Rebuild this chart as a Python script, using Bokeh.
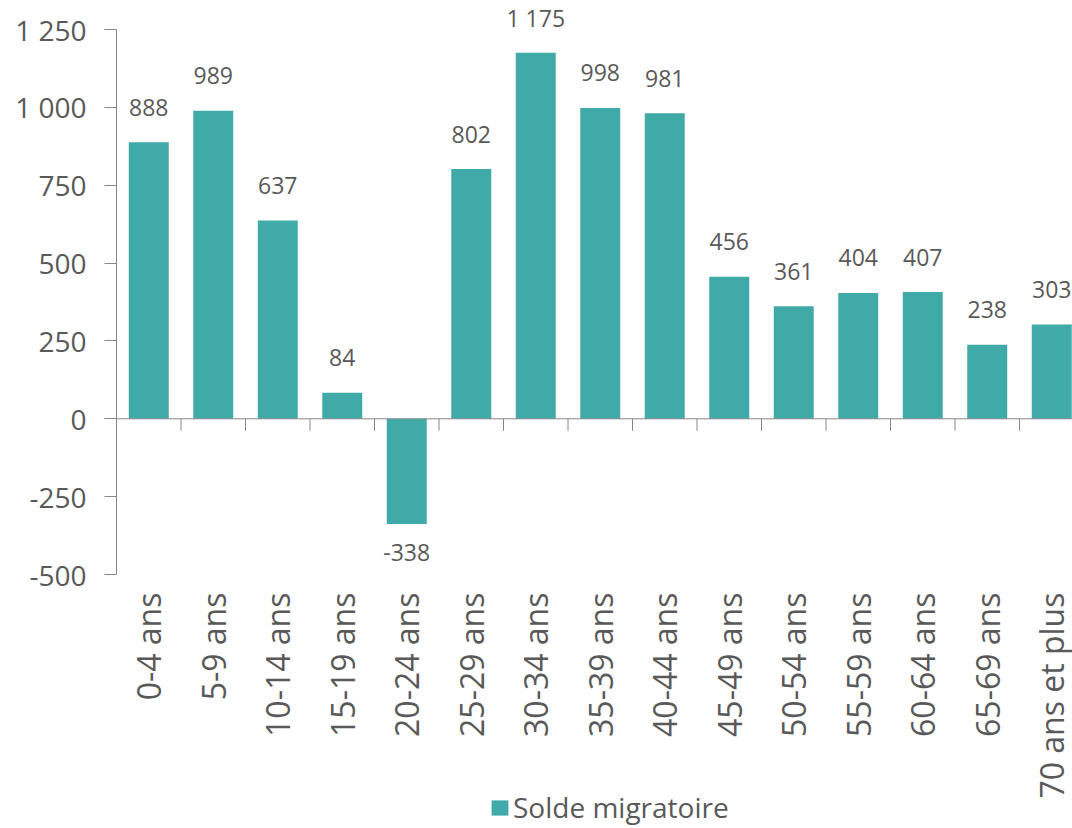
import math
from bokeh.plotting import figure
from bokeh.models import (ColumnDataSource, FixedTicker, LabelSet, Legend,
                          LegendItem, Span, Range1d)
from bokeh.core.properties import value
from bokeh.embed import file_html
from bokeh.resources import INLINE

categories = ["0-4 ans", "5-9 ans", "10-14 ans", "15-19 ans", "20-24 ans",
              "25-29 ans", "30-34 ans", "35-39 ans", "40-44 ans", "45-49 ans",
              "50-54 ans", "55-59 ans", "60-64 ans", "65-69 ans", "70 ans et plus"]
values = [888, 989, 637, 84, -338, 802, 1175, 998, 981, 456, 361, 404, 407, 238, 303]
y_ticks = [-500, -250, 0, 250, 500, 750, 1000, 1250]
series_name = "Solde migratoire"


def fmt(v):
    return f"{v:,}".replace(",", " ")


FONT = "Open Sans"
TEXT = "#595959"
AXIS = "#868686"
BAR = "#40AAA8"

Y0, Y1 = y_ticks[0], y_ticks[-1]
px_per_unit = 545 / (Y1 - Y0)
TOP_PAD = 29      # pixels above the top tick
BOTTOM_PAD = 254  # pixels below the bottom tick (category labels + legend)
FRAME_H = 545 + TOP_PAD + BOTTOM_PAD
FRAME_W = 956
CAT_PX = 64.5

xs = list(range(len(categories)))
src = ColumnDataSource(dict(
    x=xs,
    top=values,
    label=[fmt(v) for v in values],
    yoff=[35 if v >= 0 else -28 for v in values],
))

p = figure(frame_width=FRAME_W, frame_height=FRAME_H,
           x_range=Range1d(-0.5, -0.5 + FRAME_W / CAT_PX),
           y_range=Range1d(Y0 - BOTTOM_PAD / px_per_unit,
                           Y1 + TOP_PAD / px_per_unit),
           output_backend="svg", toolbar_location=None,
           min_border_left=116, min_border_top=0, min_border_right=0,
           min_border_bottom=0)
p.outline_line_color = None
p.xgrid.visible = False
p.ygrid.visible = False
p.xaxis.visible = False
p.background_fill_color = "white"
p.border_fill_color = "white"

r = p.vbar(x="x", top="top", bottom=0, width=0.62, source=src,
           fill_color=BAR, line_color=None)

# zero axis line and category boundary ticks
p.add_layout(Span(location=0, dimension="width", line_color=AXIS, line_width=1))
bounds = [i + 0.5 for i in xs]
tick_len = 12 / px_per_unit
p.segment(x0=bounds, y0=[0] * len(bounds), x1=bounds, y1=[-tick_len] * len(bounds),
          line_color=AXIS, line_width=1)

labels = LabelSet(x="x", y="top", text="label", y_offset="yoff", source=src,
                  text_align="center", text_baseline="middle",
                  text_font=value(FONT), text_font_size=value("23px"),
                  text_color=TEXT)
p.add_layout(labels)

# category labels (rotated) below the bottom of the value axis
p.text(x=xs, y=[Y0 - 18 / px_per_unit] * len(xs), text=categories,
       angle=math.pi / 2, text_align="right", text_baseline="middle",
       text_font=value(FONT), text_font_size=value("32px"), text_color=TEXT)

# y axis
ya = p.yaxis[0]
ya.ticker = FixedTicker(ticks=y_ticks)
ya.bounds = (Y0, Y1)
ya.major_label_overrides = {t: fmt(t) for t in y_ticks}
ya.axis_line_color = AXIS
ya.major_tick_line_color = AXIS
ya.major_tick_out = 12
ya.major_tick_in = 0
ya.minor_tick_line_color = None
ya.major_label_text_font = FONT
ya.major_label_text_font_size = "28px"
ya.major_label_text_color = TEXT
ya.major_label_standoff = 18

legend = Legend(items=[LegendItem(label=series_name, renderers=[r])],
                location=(373, 2), orientation="horizontal",
                border_line_color=None, background_fill_alpha=0,
                label_text_font=FONT, label_text_font_size="28px",
                label_text_color=TEXT, glyph_width=21, glyph_height=19,
                label_standoff=3, padding=0, margin=0,
                label_height=19)
p.add_layout(legend, "center")

open("out.html", "w").write(file_html(p, INLINE))
